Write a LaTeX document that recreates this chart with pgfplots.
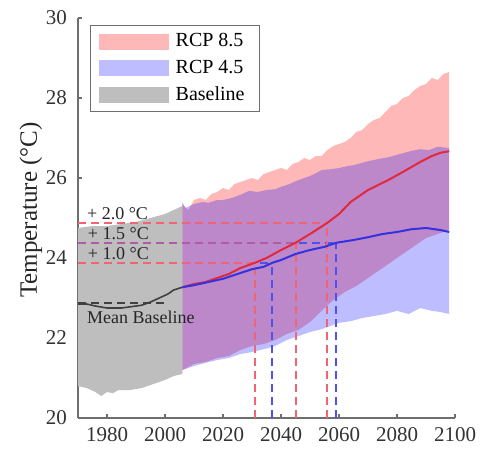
\documentclass[border=0pt]{standalone}
\usepackage{fontspec}
\setmainfont{Liberation Serif}
\newfontfamily\tnr{Liberation Serif}
\usepackage{pgfplots}
\pgfplotsset{compat=1.18}
\definecolor{axgray}{RGB}{110,110,110}
\definecolor{greyband}{RGB}{190,190,190}
\definecolor{meanred}{RGB}{225,40,60}
\definecolor{meanblue}{RGB}{50,50,225}
\definecolor{dashred}{RGB}{240,100,115}
\definecolor{dashblue}{RGB}{80,80,240}
\begin{document}
\begin{tikzpicture}
\begin{axis}[
  width=188.5pt, height=200pt, scale only axis,
  xmin=1970, xmax=2100, ymin=20, ymax=30,
  axis lines=left,
  axis line style={-, draw=axgray, line width=0.6pt},
  xtick={1980,2000,...,2100}, ytick={20,22,...,30},
  tick align=inside, major tick length=1.8pt,
  tick style={axgray, line width=0.6pt},
  /pgf/number format/assume math mode=true,
  /pgf/number format/1000 sep={},
  xticklabel={\tnr\pgfmathprintnumber[1000 sep={},assume math mode=true]{\tick}},
  yticklabel={\tnr\pgfmathprintnumber[assume math mode=true]{\tick}},
  ticklabel style={font=\tnr\fontsize{10.5}{12}\selectfont, text=black!80},
  yticklabel style={xshift=-2pt},
  xticklabel style={yshift=-1pt},
  ylabel={Temperature (°C)},
  ylabel style={at={(axis description cs:-0.125,0.52)}, anchor=center, font=\tnr\fontsize{12.5}{14}\selectfont, text=black!85},
  legend style={at={(axis description cs:0.032,0.9825)}, anchor=north west,
    draw=axgray, line width=0.6pt, font=\tnr\fontsize{10}{12}\selectfont,
    inner xsep=4pt, inner ysep=2pt, row sep=1.2pt,
    nodes={inner xsep=3.5pt}},
  legend cell align=left,
  clip=false,
]
% Baseline band
\addplot[draw=none, fill=greyband, forget plot] coordinates {
(1970,24.75) (1975,24.8) (1980,24.8) (1985,24.85) (1990,24.9) (1995,25.0) (2000,25.1) (2003,25.2) (2006,25.3)
(2006,21.1) (2003,21.05) (2000,20.95) (1996,20.85) (1992,20.75) (1988,20.7) (1984,20.7) (1982,20.62) (1980,20.65) (1978,20.55) (1976,20.65) (1973,20.75) (1970,20.8)
} -- cycle;
% RCP 8.5 band
\addplot[draw=none, fill=red, fill opacity=0.28, forget plot] coordinates {
(2006,25.35) (2008,25.2) (2010,25.45) (2012,25.5) (2014,25.45) (2016,25.6) (2018,25.65) (2020,25.75) (2022,25.7) (2024,25.85) (2026,25.9) (2028,25.95) (2030,26.0) (2032,25.95) (2034,26.1) (2036,26.15) (2038,26.2) (2040,26.25) (2042,26.2) (2044,26.35) (2046,26.4) (2048,26.5) (2050,26.45) (2052,26.55) (2054,26.55) (2056,26.7) (2058,26.8) (2060,26.85) (2062,26.9) (2064,27.0) (2066,27.15) (2068,27.2) (2070,27.35) (2072,27.45) (2074,27.5) (2076,27.65) (2078,27.8) (2080,27.85) (2082,28.0) (2084,28.05) (2086,28.2) (2088,28.3) (2090,28.35) (2092,28.5) (2094,28.45) (2096,28.6) (2098,28.65)
(2098,24.7) (2094,24.6) (2090,24.5) (2088,24.4) (2084,24.2) (2080,24.0) (2077,23.85) (2074,23.7) (2070,23.5) (2066,23.3) (2062,23.15) (2058,22.95) (2055,22.75) (2050,22.4) (2046,22.2) (2042,22.1) (2038,21.95) (2034,21.85) (2030,21.8) (2026,21.7) (2022,21.55) (2018,21.5) (2014,21.4) (2010,21.35) (2006,21.2)
} -- cycle;
% RCP 4.5 band
\addplot[draw=none, fill=blue, fill opacity=0.26, forget plot] coordinates {
(2006,25.4) (2007,25.25) (2010,25.35) (2013,25.4) (2015,25.38) (2018,25.45) (2020,25.45) (2023,25.5) (2026,25.58) (2029,25.68) (2032,25.65) (2035,25.7) (2038,25.72) (2040,25.78) (2043,25.85) (2045,25.92) (2048,26.0) (2050,26.05) (2052,26.12) (2054,26.2) (2057,26.22) (2060,26.25) (2063,26.3) (2065,26.32) (2068,26.38) (2070,26.42) (2074,26.48) (2077,26.52) (2080,26.58) (2082,26.62) (2085,26.68) (2088,26.72) (2091,26.7) (2094,26.78) (2098,26.75)
(2098,22.6) (2095,22.65) (2092,22.68) (2088,22.75) (2084,22.6) (2080,22.68) (2076,22.6) (2072,22.55) (2068,22.5) (2064,22.42) (2060,22.38) (2057,22.3) (2054,22.22) (2050,22.15) (2046,22.05) (2042,21.95) (2038,21.8) (2034,21.72) (2030,21.65) (2026,21.6) (2022,21.5) (2018,21.45) (2014,21.38) (2010,21.3) (2006,21.2)
} -- cycle;
% Horizontal dashed thresholds
\addplot[dashred, line width=1pt, dash pattern=on 4pt off 2.5pt, forget plot] coordinates {(1970,24.88) (2056,24.88)};
\addplot[dashblue, line width=1pt, dash pattern=on 4pt off 2.5pt, forget plot] coordinates {(1970,24.38) (2059,24.38)};
\addplot[dashred, line width=1pt, dash pattern=on 4pt off 2.5pt, opacity=0.6, forget plot] coordinates {(1970,24.38) (2045,24.38)};
\addplot[dashblue, line width=1pt, dash pattern=on 4pt off 2.5pt, forget plot] coordinates {(1970,23.88) (2037,23.88)};
\addplot[dashred, line width=1pt, dash pattern=on 4pt off 2.5pt, forget plot] coordinates {(1970,23.88) (2031,23.88)};
% Vertical dashed
\addplot[dashred, line width=1pt, dash pattern=on 4pt off 2.5pt, forget plot] coordinates {(2031,20) (2031,23.88)};
\addplot[dashblue, line width=1pt, dash pattern=on 4pt off 2.5pt, forget plot] coordinates {(2037,20) (2037,23.88)};
\addplot[dashred, line width=1pt, dash pattern=on 4pt off 2.5pt, forget plot] coordinates {(2045,20) (2045,24.38)};
\addplot[dashred, line width=1pt, dash pattern=on 4pt off 2.5pt, forget plot] coordinates {(2056,20) (2056,24.88)};
\addplot[dashblue, line width=1pt, dash pattern=on 4pt off 2.5pt, forget plot] coordinates {(2059,20) (2059,24.38)};
% Mean baseline dashed
\addplot[black!75, line width=0.8pt, dash pattern=on 4pt off 2.5pt, forget plot] coordinates {(1970,22.88) (2000,22.88)};
% Baseline mean
\addplot[black!75, line width=0.8pt, forget plot] coordinates {
(1970,22.85) (1973,22.85) (1976,22.8) (1980,22.75) (1985,22.75) (1988,22.78) (1992,22.82) (1995,22.9) (1998,23.0) (2001,23.1) (2003,23.2) (2006,23.27)};
% RCP 8.5 mean
\addplot[meanred, line width=1pt, forget plot] coordinates {
(2006,23.27) (2010,23.35) (2014,23.4) (2018,23.5) (2022,23.6) (2026,23.75) (2031,23.88) (2035,24.0) (2040,24.2) (2045,24.38) (2050,24.6) (2056,24.88) (2060,25.1) (2064,25.4) (2070,25.7) (2077,25.95) (2082,26.15) (2088,26.4) (2092,26.55) (2095,26.63) (2098,26.67)};
% RCP 4.5 mean
\addplot[meanblue, line width=1pt, forget plot] coordinates {
(2006,23.27) (2010,23.32) (2015,23.4) (2020,23.48) (2025,23.6) (2030,23.72) (2034,23.78) (2037,23.88) (2040,23.95) (2045,24.1) (2050,24.2) (2055,24.28) (2059,24.38) (2065,24.45) (2070,24.52) (2075,24.6) (2080,24.65) (2085,24.72) (2090,24.75) (2095,24.7) (2098,24.65)};
% Legend
\addlegendimage{legend image code/.code={\path[fill=red, fill opacity=0.28, draw=none] (0pt,-4pt) rectangle (35pt,4pt);}}
\addlegendentry{RCP 8.5}
\addlegendimage{legend image code/.code={\path[fill=blue, fill opacity=0.26, draw=none] (0pt,-4pt) rectangle (35pt,4pt);}}
\addlegendentry{RCP 4.5}
\addlegendimage{legend image code/.code={\path[fill=greyband, draw=none] (0pt,-4pt) rectangle (35pt,4pt);}}
\addlegendentry{Baseline}
% Annotations
\node[anchor=west, inner sep=0pt, font=\tnr\fontsize{9}{10}\selectfont, text=black!85] at (axis cs:1973,25.12) {+ 2.0 °C};
\node[anchor=west, inner sep=0pt, font=\tnr\fontsize{9}{10}\selectfont, text=black!85] at (axis cs:1973.3,24.6) {+ 1.5 °C};
\node[anchor=west, inner sep=0pt, font=\tnr\fontsize{9}{10}\selectfont, text=black!85] at (axis cs:1973.3,24.1) {+ 1.0 °C};
\node[anchor=west, inner sep=0pt, font=\tnr\fontsize{9}{10}\selectfont, text=black!85] at (axis cs:1973,22.52) {Mean Baseline};
\end{axis}
\pgfresetboundingbox
\path (-39pt,-17pt) rectangle (201pt,209pt);
\end{tikzpicture}
\end{document}
